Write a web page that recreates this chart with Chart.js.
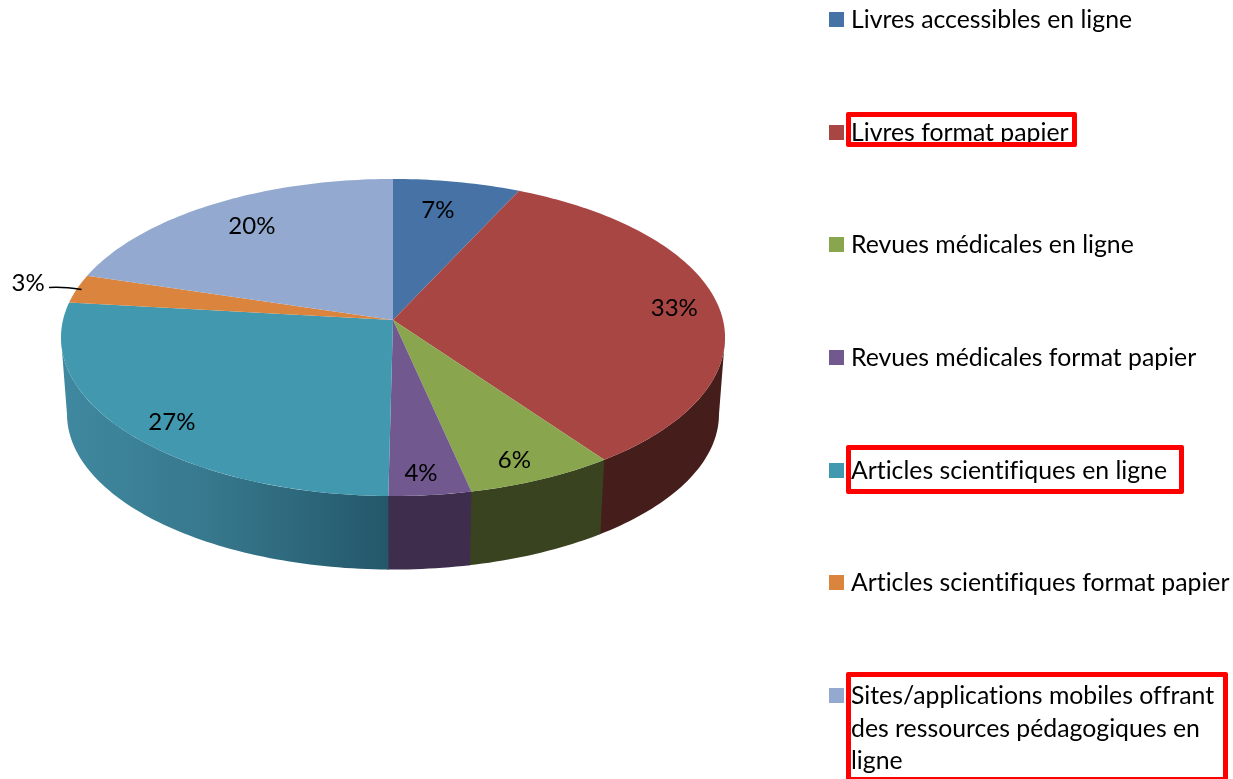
<!DOCTYPE html>
<html lang="fr">
<head>
<meta charset="utf-8">
<title>Ressources pédagogiques</title>
<script src="https://cdn.jsdelivr.net/npm/chart.js@4"></script>
<style>
    html, body { margin: 0; padding: 0; background: #fff; overflow: hidden; }
    #wrap { position: relative; width: 1233px; height: 779px; overflow: hidden; }
    canvas { position: absolute; left: 0; top: 0; }
    .swatch { position: absolute; left: 829px; width: 15px; height: 15px; }
    .entry { position: absolute; left: 851px; width: 385px; color: #000; font: 24.8px/32.5px Lato, sans-serif; font-variant-ligatures: none; }
    .frame { position: absolute; border: 5px solid #f00; border-radius: 2px; box-sizing: border-box; }
</style>
</head>
<body>
<div id="wrap">
    <canvas id="pie" width="1233" height="779"></canvas>
</div>
<script>
// Données
const categories = [
    'Livres accessibles en ligne',
    'Livres format papier',
    'Revues médicales en ligne',
    'Revues médicales format papier',
    'Articles scientifiques en ligne',
    'Articles scientifiques format papier',
    'Sites/applications mobiles offrant des ressources pédagogiques en ligne'
];
const sliceValues = [6.9, 33.2, 6.5, 3.6, 26.6, 2.9, 20.3];
const percentLabels = ['7%', '33%', '6%', '4%', '27%', '3%', '20%'];
const topColors = ['#4672A6', '#A84644', '#89A54E', '#71588F', '#4198AF', '#DB843D', '#93A9CF'];
const wallColors = ['#2A4463', '#451D1B', '#39431F', '#3E2D4C', null, '#83501F', '#58667C'];

// Placement des étiquettes : rayon relatif, décalage angulaire en degrés
const labelRadius = [0.776, 0.863, 0.881, 0.885, 0.872, 1.161, 0.790];
const labelShift = [-1.45, 0.26, 1.6, 0.8, -2.8, 0.34, 1.1];

// Cadres rouges autour de la légende : [index, left, top, width, height]
const frames = [
    [1, 846, 112, 231, 35],
    [4, 846, 445, 338, 49],
    [6, 846, 672, 382, 110]
];

// Projection en perspective du disque (plan du dessus et plan du dessous)
const topPlane = { cx: 393, cy: 320, rx: 330, ry: 156.6 };
const basePlane = { cx: 393, cy: 397, rx: 324, ry: 153.5 };
const tilt = 0.1104;

function project(plane, theta, f) {
    const u = Math.sin(theta) * f;
    const v = -Math.cos(theta) * f;
    const w = 1 - tilt * v;
    return { x: plane.cx + plane.rx * u / w, y: plane.cy + plane.ry * v / w };
}

function arcPoints(plane, from, to) {
    const pts = [];
    const steps = Math.max(2, Math.ceil((to - from) / 0.02));
    for (let i = 0; i <= steps; i++) {
        pts.push(project(plane, from + (to - from) * i / steps, 1));
    }
    return pts;
}

function tracePoints(ctx, pts) {
    pts.forEach(p => ctx.lineTo(p.x, p.y));
}

const perspectivePie = {
    id: 'perspectivePie',
    beforeDatasetsDraw(chart) {
        const ctx = chart.ctx;
        const arcs = chart.getDatasetMeta(0).data;
        const toTheta = a => a + Math.PI / 2;

        // Parois : seulement la partie avant, entre les deux points extrêmes de l'ellipse
        const frontStart = Math.acos(-tilt);
        const frontEnd = 2 * Math.PI - frontStart;
        const tealWall = ctx.createLinearGradient(65, 0, 389, 0);
        tealWall.addColorStop(0, '#3F889F');
        tealWall.addColorStop(0.45, '#37788D');
        tealWall.addColorStop(1, '#24576A');
        arcs.forEach((arc, i) => {
            const a = Math.max(toTheta(arc.startAngle), frontStart);
            const b = Math.min(toTheta(arc.endAngle) + 0.004, frontEnd);
            if (b <= a) return;
            ctx.beginPath();
            tracePoints(ctx, arcPoints(topPlane, a, b));
            tracePoints(ctx, arcPoints(basePlane, a, b).reverse());
            ctx.closePath();
            ctx.fillStyle = wallColors[i] || tealWall;
            ctx.fill();
        });

        // Dessus
        arcs.forEach(arc => {
            const a = toTheta(arc.startAngle), b = toTheta(arc.endAngle);
            ctx.beginPath();
            ctx.moveTo(topPlane.cx, topPlane.cy);
            tracePoints(ctx, arcPoints(topPlane, a, b));
            ctx.closePath();
            ctx.fillStyle = arc.options.backgroundColor;
            ctx.fill();
        });

        // Trait de rappel du 3%
        const small = arcs[5];
        const edge = project(topPlane, toTheta((small.startAngle + small.endAngle) / 2), 0.985);
        ctx.beginPath();
        ctx.moveTo(49, 287.5);
        ctx.quadraticCurveTo(62, 286.5, edge.x, edge.y);
        ctx.strokeStyle = '#000';
        ctx.lineWidth = 1.5;
        ctx.stroke();

        // Étiquettes
        ctx.font = '24px Lato, sans-serif';
        ctx.fillStyle = '#000';
        ctx.textAlign = 'center';
        ctx.textBaseline = 'middle';
        arcs.forEach((arc, i) => {
            const mid = toTheta((arc.startAngle + arc.endAngle) / 2) + labelShift[i] * Math.PI / 180;
            const p = project(topPlane, mid, labelRadius[i]);
            ctx.fillText(percentLabels[i], p.x, p.y);
        });
        return false;
    }
};

new Chart(document.getElementById('pie').getContext('2d'), {
    type: 'pie',
    data: {
        labels: categories,
        datasets: [{ data: sliceValues, backgroundColor: topColors, borderWidth: 0 }]
    },
    options: {
        responsive: false,
        animation: false,
        plugins: { legend: { display: false }, tooltip: { enabled: false } }
    },
    plugins: [perspectivePie]
});

// Légende
const wrap = document.getElementById('wrap');
categories.forEach((name, i) => {
    const rowTop = 12 + i * 112.67;
    const swatch = document.createElement('div');
    swatch.className = 'swatch';
    swatch.style.top = rowTop + 'px';
    swatch.style.background = topColors[i];
    wrap.appendChild(swatch);

    const entry = document.createElement('div');
    entry.className = 'entry';
    entry.style.top = (rowTop - 9) + 'px';
    entry.textContent = name;
    wrap.appendChild(entry);
});
frames.forEach(f => {
    const frame = document.createElement('div');
    frame.className = 'frame';
    frame.style.left = f[1] + 'px';
    frame.style.top = f[2] + 'px';
    frame.style.width = f[3] + 'px';
    frame.style.height = f[4] + 'px';
    wrap.appendChild(frame);
});
</script>
</body>
</html>
